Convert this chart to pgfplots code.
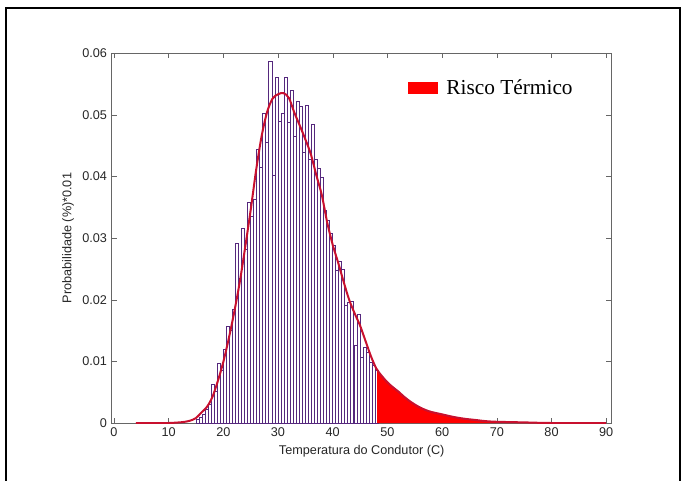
\documentclass[border=0pt]{standalone}
\usepackage{fontspec}
\setmainfont{Liberation Sans}
\newfontfamily\serif{Liberation Serif}
\usepackage{pgfplots}
\pgfplotsset{compat=1.18}
\definecolor{barEdge}{RGB}{85,40,125}
\definecolor{curveRed}{RGB}{200,16,46}
\begin{document}
\begin{tikzpicture}
\useasboundingbox (-83.775pt,-42.75pt) rectangle (429.225pt,317.25pt);
% moldura
\draw[line width=1.5pt] (-79.3pt,-60pt) -- (-79.3pt,311.25pt) -- (426.2pt,311.25pt) -- (426.2pt,-60pt);
\begin{axis}[
    scale only axis,
    width=375pt, height=277.5pt,
    xmin=-0.4, xmax=91,
    ymin=0, ymax=0.06,
    scaled y ticks=false,
    xtick={0,10,...,90},
    xticklabels={0,10,20,30,40,50,60,70,80,90},
    ytick={0,0.01,0.02,0.03,0.04,0.05,0.06},
    yticklabels={0,0.01,0.02,0.03,0.04,0.05,0.06},
    tick align=inside,
    major tick length=4pt,
    axis line style={black!60},
    tick style={black!60},
    ticklabel style={font=\fontsize{9.5}{11}\selectfont, text=black!85},
    xlabel={Temperatura do Condutor (C)},
    ylabel={Probabilidade (\%)*0.01},
    label style={font=\fontsize{9.5}{11}\selectfont, text=black!85},
    xlabel style={at={(axis description cs:0.5,-0.0776)}, anchor=center},
    ylabel style={at={(axis description cs:-0.0874,0.5)}, anchor=center},
    legend style={draw=none, fill=none, at={(0.593,0.905)}, anchor=west,
        inner sep=0pt, font=\serif\fontsize{16}{18}\selectfont},
    legend cell align=left,
]
% histograma
\addplot[ybar, bar width=0.555, bar shift=0pt, draw=barEdge, fill=white, line width=0.5pt, forget plot]
  coordinates {
  (15.28,0.0006) (15.83,0.0009) (16.39,0.0014) (16.94,0.0022) (17.50,0.0031)
  (18.05,0.0063) (18.61,0.0052) (19.16,0.0097) (19.72,0.0085) (20.27,0.0120)
  (20.83,0.0156) (21.38,0.0150) (21.94,0.0185) (22.49,0.0292) (23.05,0.0235)
  (23.60,0.0315) (24.16,0.0282) (24.71,0.0358) (25.27,0.0335) (25.82,0.0362)
  (26.38,0.0443) (26.93,0.0414) (27.49,0.0502) (28.04,0.0455) (28.60,0.0587)
  (29.15,0.0401) (29.71,0.0560) (30.26,0.0490) (30.82,0.0502) (31.37,0.0560)
  (31.93,0.0488) (32.48,0.0540) (33.04,0.0465) (33.59,0.0522) (34.15,0.0513)
  (34.70,0.0439) (35.26,0.0515) (35.81,0.0427) (36.37,0.0484) (36.92,0.0427)
  (37.48,0.0413) (38.03,0.0399) (38.59,0.0345) (39.14,0.0329) (39.70,0.0307)
  (40.25,0.0288) (40.81,0.0247) (41.36,0.0262) (41.92,0.0250) (42.47,0.0191)
  (43.03,0.0196) (43.58,0.0198) (44.14,0.0126) (44.69,0.0177) (45.25,0.0107)
  (45.80,0.0123) (46.36,0.0115) (46.91,0.0099) (47.47,0.0094) (48.02,0.0085)
  };
% risco termico
\addplot[fill=red, draw=none, area legend,
    legend image code/.code={\fill[red] (0pt,-4.7pt) rectangle (22.5pt,4.7pt);}]
  coordinates {
  (48.1,0.0086) (49,0.0076) (50,0.0066) (51,0.0058) (52,0.0051) (53,0.0043)
  (54,0.0036) (55,0.0030) (56,0.0025) (57,0.0021) (58,0.0018) (59,0.0016)
  (60,0.0014) (62,0.0010) (64,0.0007) (66,0.0005) (68,0.0003) (70,0.0002)
  (75,0.0001) (80,0) (90,0)
  } \closedcycle;
\addlegendentry{\hspace{4pt}Risco Térmico}
% curva
\addplot[curveRed, line width=1.5pt, smooth, forget plot]
  coordinates {
  (4,0) (8,0) (10,0) (12,0.0001) (13,0.0002) (14,0.0004) (15,0.0008)
  (16,0.0017) (17,0.0026) (18,0.0042) (19,0.0068) (20,0.0099) (21,0.0137)
  (22,0.0180) (23,0.0228) (24,0.0285) (25,0.0345) (26,0.0410) (27,0.0465)
  (28,0.0504) (29,0.0526) (30,0.0533) (31,0.0535) (32,0.0527) (33,0.0503)
  (34,0.0482) (35,0.0460) (36,0.0436) (37,0.0402) (38,0.0370) (39,0.0325)
  (40,0.0289) (41,0.0260) (42,0.0229) (43,0.0200) (44,0.0178) (45,0.0158)
  (46,0.0133) (47,0.0108) (48,0.0088) (49,0.0076) (50,0.0066) (51,0.0058)
  (52,0.0051) (53,0.0043) (54,0.0036) (55,0.0030) (56,0.0025) (57,0.0021)
  (58,0.0018) (59,0.0016) (60,0.0014) (62,0.0010) (64,0.0007) (66,0.0005)
  (68,0.0003) (70,0.0002) (75,0.0001) (80,0) (90,0)
  };
\end{axis}
\end{tikzpicture}
\end{document}
